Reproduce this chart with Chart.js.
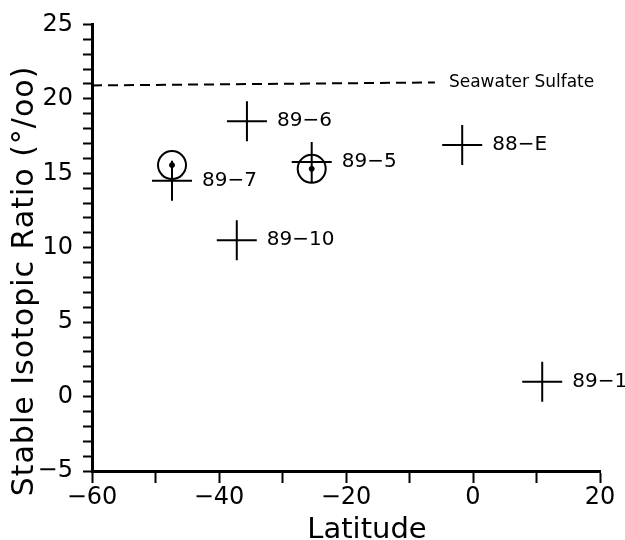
<!DOCTYPE html>
<html>
<head>
<meta charset="utf-8">
<script src="https://cdn.jsdelivr.net/npm/chart.js@4/dist/chart.umd.min.js"></script>
<style>
  body { margin: 0; background: #fff; }
  #wrap { width: 625px; height: 540px; }
</style>
</head>
<body>
<div id="wrap"><canvas id="isotopeChart" width="625" height="540"></canvas></div>
<script>
// samples
const sampleIds = ["89-6", "89-7", "89-5", "88-E", "89-10", "89-1"];
const latitude = [-35.6, -47.4, -25.4, -1.7, -37.2, 10.9];
const isotopeRatio = [18.5, 14.5, 15.75, 16.9, 10.5, 1.0];

// circled samples (marker sits a bit off the cross)
const circledLatitude = [-47.4, -25.4];
const circledRatio = [15.55, 15.3];

// seawater sulfate reference line
const seawaterLatitude = [-60, -6];
const seawaterRatio = [20.9, 21.1];
const seawaterLabel = "Seawater Sulfate";

const xMin = -60, xMax = 20, xStep = 10, xLabelEvery = 20;
const yMin = -5, yMax = 25, yStep = 1, yLabelEvery = 5;

const FONT = "'DejaVu Sans', sans-serif";

function fmt(v) {
  return v < 0 ? "\u2212" + Math.abs(v) : String(v);
}

function toPoints(xs, ys) {
  return xs.map((x, i) => ({ x: x, y: ys[i] }));
}

const labelPlugin = {
  id: "labels",
  afterDatasetsDraw(chart) {
    const ctx = chart.ctx;
    const xs = chart.scales.x;
    const ys = chart.scales.y;
    ctx.save();
    ctx.fillStyle = "#000";
    ctx.textBaseline = "middle";
    ctx.textAlign = "left";
    ctx.font = "20px " + FONT;
    sampleIds.forEach((id, i) => {
      const px = xs.getPixelForValue(latitude[i]) + 30;
      const py = ys.getPixelForValue(isotopeRatio[i]);
      ctx.fillText(id.replace("-", "\u2212"), px, py);
    });
    // seawater label at end of dashed line
    const last = seawaterLatitude.length - 1;
    ctx.font = "17px " + FONT;
    ctx.fillText(seawaterLabel,
      xs.getPixelForValue(seawaterLatitude[last]) + 14,
      ys.getPixelForValue(seawaterRatio[last]));

    // axis titles
    ctx.font = "29px " + FONT;
    ctx.textAlign = "center";
    ctx.textBaseline = "alphabetic";
    ctx.fillText("Latitude", 367, 538);
    ctx.translate(33, 281);
    ctx.rotate(-Math.PI / 2);
    ctx.font = "30px " + FONT;
    ctx.letterSpacing = "1px";
    ctx.fillText("Stable Isotopic Ratio (\u00b0/oo)", 0, 0);
    ctx.restore();
  },
};

const canvas = document.getElementById("isotopeChart");
const chart = new Chart(canvas, {
  type: "scatter",
  data: {
    datasets: [
      {
        label: "Seawater sulfate",
        data: toPoints(seawaterLatitude, seawaterRatio),
        showLine: true,
        borderColor: "#000",
        borderWidth: 2,
        borderDash: [10, 6],
        pointRadius: 0,
      },
      {
        label: "Samples",
        data: toPoints(latitude, isotopeRatio),
        pointStyle: "cross",
        pointRadius: 20,
        borderColor: "#000",
        borderWidth: 2,
      },
      {
        label: "Circled",
        data: toPoints(circledLatitude, circledRatio),
        pointStyle: "circle",
        pointRadius: 14,
        borderColor: "#000",
        backgroundColor: "rgba(0,0,0,0)",
        borderWidth: 2,
      },
      {
        label: "Circled dot",
        data: toPoints(circledLatitude, circledRatio),
        pointStyle: "circle",
        pointRadius: 2.5,
        borderColor: "#000",
        backgroundColor: "#000",
        borderWidth: 1,
      },
    ],
  },
  options: {
    responsive: false,
    animation: false,
    events: [],
    clip: false,
    layout: { padding: { left: 0, right: 25, top: 24, bottom: 0 } },
    plugins: {
      legend: { display: false },
      tooltip: { enabled: false },
    },
    scales: {
      x: {
        type: "linear",
        min: xMin,
        max: xMax,
        afterFit: (scale) => { scale.height = 69; },
        ticks: {
          stepSize: xStep,
          autoSkip: false,
          maxRotation: 0,
          padding: 0,
          color: "#000",
          font: { family: FONT, size: 24 },
          callback: (v) => (v % xLabelEvery === 0 ? fmt(v) : ""),
        },
        grid: {
          drawOnChartArea: false,
          tickLength: 12,
          tickWidth: 2,
          tickColor: "#000",
        },
        border: { color: "#000", width: 3 },
      },
      y: {
        type: "linear",
        min: yMin,
        max: yMax,
        afterFit: (scale) => { scale.width = 92; },
        ticks: {
          stepSize: yStep,
          autoSkip: false,
          padding: 10,
          color: "#000",
          font: { family: FONT, size: 24 },
          callback: (v) => (v % yLabelEvery === 0 ? fmt(v) : ""),
        },
        grid: {
          drawOnChartArea: false,
          tickLength: 9,
          tickWidth: 2,
          tickColor: "#000",
        },
        border: { color: "#000", width: 3 },
      },
    },
  },
  plugins: [labelPlugin],
});
</script>
</body>
</html>
